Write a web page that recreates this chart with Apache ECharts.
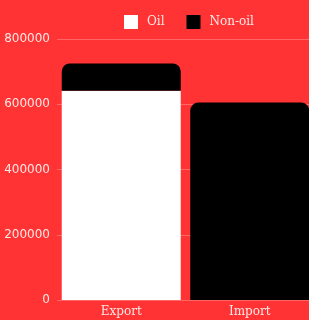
<!DOCTYPE html>
<html>
<head>
<meta charset="utf-8">
<script src="https://cdn.jsdelivr.net/npm/echarts@6/dist/echarts.min.js"></script>
<style>
  html, body { margin: 0; padding: 0; background: #ff3333; }
  #chart { width: 309px; height: 320px; }
</style>
</head>
<body>
<div id="chart"></div>
<script>
// data
const categories = ['Export', 'Import']
const oilValues = [641000, 0]
const nonOilValues = [84000, 605000]
const yTicks = [0, 200000, 400000, 600000, 800000]

const labelColor = 'rgba(255,255,255,0.88)'
const gridLine = 'rgba(255,255,255,0.25)'

const chart = echarts.init(document.getElementById('chart'))

chart.setOption({
  backgroundColor: '#ff3333',
  animation: false,
  legend: {
    data: ['Oil', 'Non-oil'],
    left: 119,
    top: 10,
    itemWidth: 14,
    itemHeight: 14,
    itemGap: 22,
    icon: 'rect',
    textStyle: { color: labelColor, fontSize: 12, fontFamily: 'DejaVu Serif', padding: [0, 0, 0, 4] }
  },
  grid: {
    left: 57,
    top: 39,
    width: 257,
    bottom: 20,
    containLabel: false,
    outerBoundsMode: 'none'
  },
  xAxis: {
    type: 'category',
    data: categories,
    axisLine: { show: false },
    axisTick: { show: false },
    axisLabel: { color: labelColor, fontSize: 12, fontFamily: 'DejaVu Serif', margin: 6 }
  },
  yAxis: {
    type: 'value',
    min: yTicks[0],
    max: yTicks[yTicks.length - 1],
    interval: 200000,
    axisLine: { show: false },
    axisTick: { show: false },
    axisLabel: { color: labelColor, fontSize: 12, fontFamily: 'DejaVu Sans', margin: 7, formatter: v => String(v) },
    splitLine: { lineStyle: { color: gridLine, width: 1 } }
  },
  series: [
    {
      name: 'Oil',
      type: 'bar',
      stack: 'total',
      barWidth: 119,
      data: oilValues,
      itemStyle: { color: '#ffffff' }
    },
    {
      name: 'Non-oil',
      type: 'bar',
      stack: 'total',
      barWidth: 119,
      data: nonOilValues,
      itemStyle: { color: '#000000', borderRadius: [8, 8, 0, 0] }
    }
  ]
})
</script>
</body>
</html>
